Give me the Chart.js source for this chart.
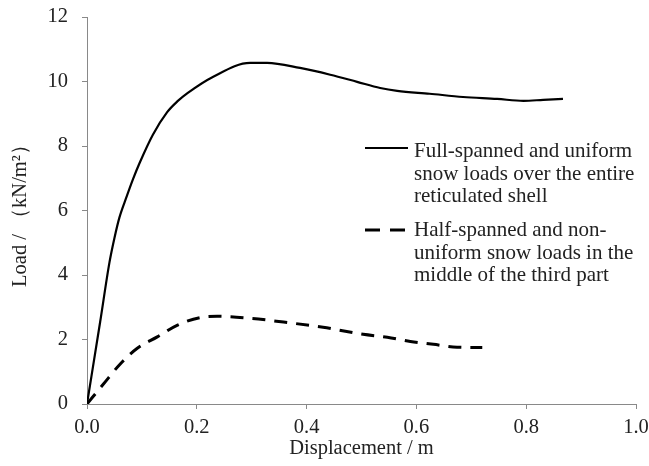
<!DOCTYPE html>
<html lang="en">
<head>
  <meta charset="UTF-8">
  <title>Load - displacement curves</title>
  <script src="https://cdn.jsdelivr.net/npm/chart.js"></script>
  <style>
    html, body { margin: 0; padding: 0; background: #fff; }
    #wrap { width: 649px; height: 466px; position: relative; }
  </style>
</head>
<body>
  <div id="wrap"><canvas id="chart"></canvas></div>

  <script>
    // Full-spanned and uniform snow loads (solid line)
    const dispFull = [0, 0.024, 0.041, 0.050, 0.059, 0.072, 0.084, 0.096, 0.12, 0.146, 0.165, 0.183, 0.23, 0.297, 0.328, 0.388, 0.443, 0.492, 0.534, 0.565, 0.624, 0.685, 0.747, 0.795, 0.831, 0.867];
    const loadFull = [0, 2.55, 4.4, 5.15, 5.78, 6.42, 6.98, 7.48, 8.35, 9.05, 9.39, 9.64, 10.15, 10.58, 10.58, 10.42, 10.21, 9.99, 9.8, 9.71, 9.62, 9.52, 9.46, 9.4, 9.43, 9.46];

    // Half-spanned and non-uniform snow loads (dashed line)
    const dispHalf = [0, 0.030, 0.061, 0.091, 0.128, 0.164, 0.206, 0.237, 0.297, 0.358, 0.43, 0.503, 0.547, 0.589, 0.631, 0.674, 0.72];
    const loadHalf = [0, 0.62, 1.25, 1.72, 2.08, 2.44, 2.68, 2.72, 2.66, 2.54, 2.38, 2.16, 2.07, 1.94, 1.85, 1.76, 1.75];

    const legendFull = ['Full-spanned and uniform', 'snow loads over the entire', 'reticulated shell'];
    const legendHalf = ['Half-spanned and non-', 'uniform snow loads in the', 'middle of the third part'];

    const FONT = "'Liberation Serif', 'Times New Roman', serif";
    const AXIS_GREY = '#898989';

    const toPoints = (xs, ys) => xs.map((x, i) => ({ x: x, y: ys[i] }));

    // Legend drawn inside the plot, on the right
    const legendPlugin = {
      id: 'sideLegend',
      afterDraw(chart) {
        const ctx = chart.ctx;
        ctx.save();
        ctx.font = '21px ' + FONT;
        ctx.fillStyle = '#222';
        ctx.textBaseline = 'alphabetic';
        ctx.textAlign = 'left';
        ctx.strokeStyle = '#000';

        // solid sample
        ctx.lineWidth = 2;
        ctx.setLineDash([]);
        ctx.beginPath();
        ctx.moveTo(365, 148);
        ctx.lineTo(408, 148);
        ctx.stroke();
        legendFull.forEach((t, i) => ctx.fillText(t, 414, 157 + i * 22.5));

        // dashed sample
        ctx.lineWidth = 3;
        ctx.setLineDash([15, 10]);
        ctx.beginPath();
        ctx.moveTo(365, 230);
        ctx.lineTo(408, 230);
        ctx.stroke();
        legendHalf.forEach((t, i) => ctx.fillText(t, 414, 236 + i * 22.5));
        ctx.restore();
      }
    };

    new Chart(document.getElementById('chart'), {
      type: 'line',
      data: {
        datasets: [
          {
            label: 'Full-spanned and uniform snow loads over the entire reticulated shell',
            data: toPoints(dispFull, loadFull),
            borderColor: '#000',
            borderWidth: 2.2,
            pointRadius: 0,
            fill: false,
            cubicInterpolationMode: 'monotone'
          },
          {
            label: 'Half-spanned and non-uniform snow loads in the middle of the third part',
            data: toPoints(dispHalf, loadHalf),
            borderColor: '#000',
            borderWidth: 3,
            borderDash: [13, 9],
            pointRadius: 0,
            fill: false,
            cubicInterpolationMode: 'monotone'
          }
        ]
      },
      options: {
        responsive: true,
        maintainAspectRatio: false,
        animation: false,
        layout: { padding: { top: 17, right: 13, left: 0, bottom: 0 } },
        plugins: {
          legend: { display: false },
          tooltip: { enabled: false }
        },
        scales: {
          x: {
            type: 'linear',
            min: 0,
            max: 1,
            afterFit: s => { s.height = 62; s.paddingLeft = 0; s.paddingRight = 0; },
            ticks: {
              stepSize: 0.2,
              padding: 6,
              color: '#222',
              font: { family: FONT, size: 20.5 },
              callback: v => v.toFixed(1)
            },
            grid: { drawOnChartArea: false, drawTicks: true, tickLength: 5, color: AXIS_GREY },
            border: { display: true, color: AXIS_GREY, width: 1 },
            title: {
              display: true,
              text: 'Displacement / m',
              color: '#222',
              font: { family: FONT, size: 20.5 },
              padding: { top: 0, bottom: 5 }
            }
          },
          y: {
            min: 0,
            max: 12,
            afterFit: s => { s.width = 87; s.paddingTop = 0; s.paddingBottom = 0; },
            ticks: {
              stepSize: 2,
              padding: 14,
              color: '#222',
              font: { family: FONT, size: 20.5 }
            },
            grid: { drawOnChartArea: false, drawTicks: true, tickLength: 5, color: AXIS_GREY },
            border: { display: true, color: AXIS_GREY, width: 1 },
            title: {
              display: true,
              text: 'Load / （kN/m²）',
              color: '#222',
              font: { family: FONT, size: 20.5 },
              padding: { top: 8, bottom: 0 }
            }
          }
        }
      },
      plugins: [legendPlugin]
    });
  </script>
</body>
</html>
